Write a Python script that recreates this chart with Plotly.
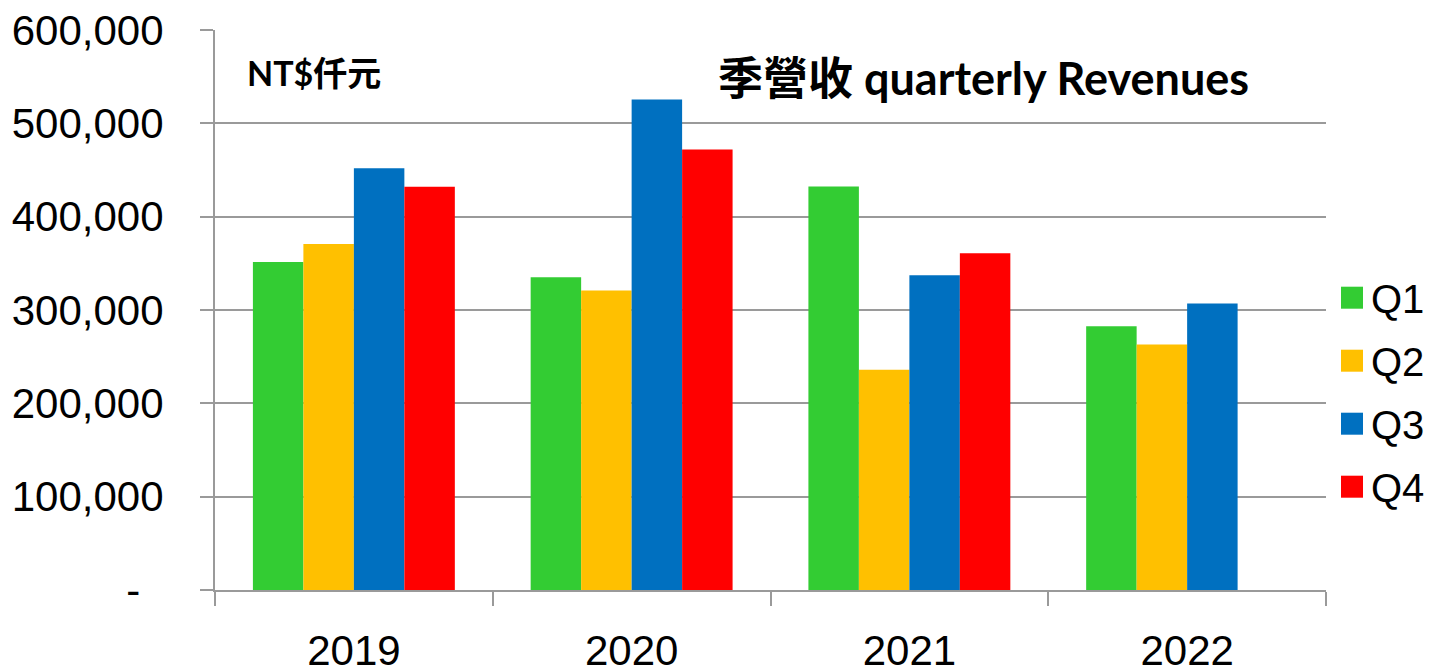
import plotly.graph_objects as go

years = ["2019", "2020", "2021", "2022"]
quarters = ["Q1", "Q2", "Q3", "Q4"]
q1 = [351500, 335000, 432300, 282600]
q2 = [370800, 320800, 236000, 263000]
q3 = [452000, 525500, 337300, 306900]
q4 = [432000, 472000, 360900, None]
series = [q1, q2, q3, q4]
colors = ["#33CC33", "#FFC000", "#0070C0", "#FF0000"]
y_tickvals = [0, 100000, 200000, 300000, 400000, 500000, 600000]
y_ticktext = ["-\u00a0\u00a0", "100,000", "200,000", "300,000", "400,000", "500,000", "600,000"]

W, H = 1431, 671
L, R, T, B = 215, 105, 30, 81
PW, PH = W - L - R, H - T - B


def px_x(px):
    return (px - L) / PW


def px_y(py):
    return (H - B - py) / PH


fig = go.Figure()
for name, vals, col in zip(quarters, series, colors):
    fig.add_trace(go.Bar(x=years, y=vals, name=name, marker=dict(color=col, line=dict(width=0)),
                         showlegend=False))

grid = "#9a9a9a"
fig.update_layout(
    width=W, height=H,
    margin=dict(l=L, r=R, t=T, b=B, pad=0, autoexpand=False),
    paper_bgcolor="white", plot_bgcolor="white",
    barmode="group", bargap=0.273, bargroupgap=0,
    font=dict(family="Liberation Sans, Arial, sans-serif", color="black"),
    xaxis=dict(type="category", showgrid=False, showline=True, linecolor=grid, linewidth=2,
               ticks="outside", tickson="boundaries", ticklen=14, tickwidth=2, tickcolor=grid,
               tickfont=dict(size=42, family="Liberation Sans"), ticklabelstandoff=23,
               range=[-0.5, 3.5], automargin=False),
    yaxis=dict(range=[0, 600000], tickvals=y_tickvals, ticktext=y_ticktext,
               showgrid=True, gridcolor=grid, gridwidth=2, zeroline=False,
               showline=True, linecolor=grid, linewidth=2,
               ticks="outside", ticklen=13, tickwidth=2, tickcolor=grid,
               tickfont=dict(size=42, family="Liberation Sans"), ticklabelstandoff=28,
               automargin=False),
)

# manual legend
for i, (name, col) in enumerate(zip(quarters, colors)):
    cy = 297.7 + 63 * i
    fig.add_shape(type="rect", xref="paper", yref="paper",
                  x0=px_x(1341), x1=px_x(1363), y0=px_y(cy + 11), y1=px_y(cy - 11),
                  fillcolor=col, line=dict(width=0))
    fig.add_annotation(xref="paper", yref="paper", x=px_x(1369), y=px_y(cy + 1),
                       xanchor="left", yanchor="middle", text=name, showarrow=False,
                       font=dict(size=40, family="Liberation Sans", color="black"))

fig.add_annotation(xref="paper", yref="paper", x=px_x(716), y=px_y(78),
                   xanchor="left", yanchor="middle", showarrow=False,
                   text="<b>季營收 quarterly Revenues</b>",
                   font=dict(size=45, family="Lato, 'Noto Sans CJK TC', sans-serif", color="black"))
fig.add_annotation(xref="paper", yref="paper", x=px_x(245), y=px_y(73),
                   xanchor="left", yanchor="middle", showarrow=False,
                   text="<b>NT$仟元</b>",
                   font=dict(size=34, family="Lato, 'Noto Sans CJK TC', sans-serif", color="black"))

fig.write_html("out.html")
